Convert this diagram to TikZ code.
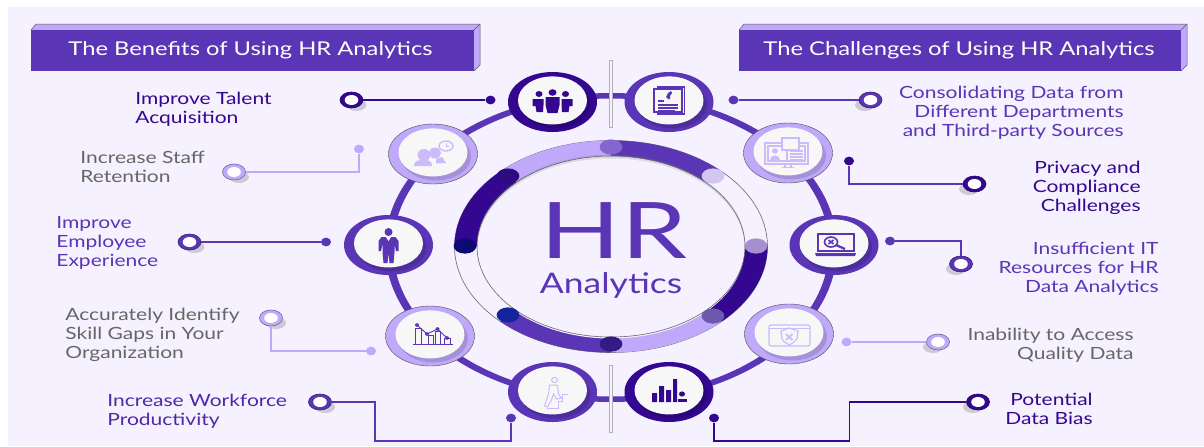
\documentclass[tikz,border=0pt]{standalone}
\usepackage{fontspec}
\setmainfont[FakeStretch=1.25]{Lato}
\usetikzlibrary{shapes.geometric}
\definecolor{bgp}{HTML}{F5F1FE}
\definecolor{darkp}{HTML}{33078F}
\definecolor{midp}{HTML}{5A35B5}
\definecolor{lightp}{HTML}{C0A9FB}
\definecolor{iconl}{HTML}{CBBBFA}
\definecolor{corec}{HTML}{F7F7F8}
\definecolor{grayt}{HTML}{666666}
\definecolor{da}{HTML}{8565CE}
\definecolor{db}{HTML}{D2C6F0}
\definecolor{dc}{HTML}{A78ED0}
\definecolor{dd}{HTML}{6C58AC}
\definecolor{de}{HTML}{341A85}
\definecolor{df}{HTML}{14249C}
\definecolor{dg}{HTML}{0E0A75}
\definecolor{dh}{HTML}{2E0A80}
\tikzset{
 x=0.5pt,y=-0.5pt,
 big/.style={ellipse,inner sep=0pt,minimum width=44.5pt,minimum height=30pt},
 core/.style={ellipse,inner sep=0pt,minimum width=34.5pt,minimum height=24pt,fill=corec},
 termo/.style={ellipse,inner sep=0pt,minimum width=11.5pt,minimum height=8pt,draw=#1!60!black,line width=.3pt,fill=#1},
 termi/.style={ellipse,inner sep=0pt,minimum width=6.8pt,minimum height=5pt,fill=white},
 dotn/.style={ellipse,inner sep=0pt,minimum width=5pt,minimum height=4.4pt,fill=#1},
 conn/.style={draw=#1,line width=.9pt},
 lbl/.style={inner sep=0pt,font=\fontsize{8.4}{9.5}\selectfont,text=#1},
 head/.style={inner sep=0pt,text=white,font=\fontsize{9.5}{11}\selectfont},
 ringdot/.style={ellipse,inner sep=0pt,minimum width=11.4pt,minimum height=7.6pt,fill=#1},
 icon/.style={draw=#1,fill=#1},
}
\newcommand\bignode[4]{% name, pos, colour, extra style
 \node[big,fill=#3,#4] (#1) at (#2) {};
 \fill[black,opacity=.14] ([shift={(1.5pt,-1.2pt)}]#1) ellipse[x radius=35,y radius=24];
 \node[core] (#1i) at ([yshift=.8pt]#1) {};
}
\newcommand\termnode[3]{%
 \node[termo=#3] (#1) at (#2) {};
 \node[termi] (#1i) at (#2) {};
}
\newcommand\termshadow[2]{\fill[black,opacity=.16] (#1) ++(#2,5) ellipse[x radius=10,y radius=6];}
\newcommand\ringseg[3]{\fill[#3] plot[domain=#1:#2,samples=30] ({611+156.5*cos(\x)},{246.5+106*sin(\x)}) -- plot[domain=#2:#1,samples=30] ({611+134*cos(\x)},{246.5+90.5*sin(\x)}) -- cycle;}
\begin{document}
\begin{tikzpicture}
\useasboundingbox (0,0) rectangle (1204,446);
\fill[white] (0,0) rectangle (1204,446);
\fill[bgp] (8,7) rectangle (1204,446);
% headers
\fill[lightp] (31,30) -- (36,24) -- (480,24) -- (480,65) -- (474,71) -- (474,30) -- cycle;
\draw[gray!70!black,line width=.25pt] (31,30) -- (36,24) -- (480,24) -- (480,65) -- (474,71);
\draw[gray!70!black,line width=.25pt] (474,30) -- (480,24);
\node[fill=midp,inner sep=0pt,minimum width=221.5pt,minimum height=20.5pt,head] (hl) at (252.5,50) {};
\node[head] (hlt) at (250.5,50.5) {The Benefits of Using HR Analytics};
\fill[lightp] (739,30) -- (744,24) -- (1187,24) -- (1187,65) -- (1181,71) -- (1181,30) -- cycle;
\draw[gray!70!black,line width=.25pt] (739,30) -- (744,24) -- (1187,24) -- (1187,65) -- (1181,71);
\draw[gray!70!black,line width=.25pt] (1181,30) -- (1187,24);
\node[fill=midp,inner sep=0pt,minimum width=221pt,minimum height=20.5pt,head] (hr) at (960,50) {};
\node[head] (hrt) at (959,50.5) {The Challenges of Using HR Analytics};
% connecting ring
\fill[midp,even odd rule] (611,247.5) ellipse[x radius=226,y radius=154.5] (611,247.5) ellipse[x radius=218,y radius=149];
% separators
\draw[draw=gray!60,line width=1.6pt] (611,60) -- (611,128);
\draw[draw=bgp,line width=.7pt] (611,61) -- (611,127);
\draw[draw=gray!60,line width=1.6pt] (611,365) -- (611,433);
\draw[draw=bgp,line width=.7pt] (611,366) -- (611,432);
% centre ring
\fill[bgp] (611,246.5) ellipse[x radius=156.5,y radius=106];
\draw[gray!80!black,line width=.3pt] (611,246.5) ellipse[x radius=156.5,y radius=106];
\ringseg{0}{45}{darkp}
\ringseg{45}{90}{lightp}
\ringseg{90}{135}{midp}
\ringseg{180}{225}{darkp}
\ringseg{225}{270}{lightp}
\ringseg{270}{315}{midp}
\fill[gray,opacity=.22] (611,245) ellipse[x radius=134,y radius=90.5];
\fill[bgp] (611,248.5) ellipse[x radius=133.5,y radius=90];
\draw[gray!80!black,line width=.3pt] (611,246.5) ellipse[x radius=134,y radius=90.5];
\node[ringdot=da] (d1) at (611,147) {};
\node[ringdot=db] (d2) at (713,176) {};
\node[ringdot=dc] (d3) at (756,246) {};
\node[ringdot=dd] (d4) at (713,316) {};
\node[ringdot=de] (d5) at (611,344) {};
\node[ringdot=df] (d6) at (508,315) {};
\node[ringdot=dg] (d7) at (465,246) {};
\node[ringdot=dh] (d8) at (508,176) {};
\node[inner sep=0pt,text=midp,font=\fontsize{39}{40}\selectfont] (hrtitle) at (614,231) {\scalebox{1.08}[1]{HR}};
\node[inner sep=0pt,text=midp,font=\fontsize{14.2}{15}\selectfont] (hrsub) at (611,285) {Analytics};
% big nodes
\bignode{n1}{552.5,102}{darkp}{}
\bignode{n2}{669,102}{midp}{}
\bignode{n3}{788,153}{lightp}{draw=black!70,line width=.2pt}
\bignode{n4}{433,154}{lightp}{draw=black!70,line width=.2pt}
\bignode{n5}{834,245}{midp}{}
\bignode{n6}{388.5,245}{midp}{}
\bignode{n7}{789,334}{lightp}{draw=black!70,line width=.2pt}
\bignode{n8}{430,336}{lightp}{draw=black!70,line width=.2pt}
\bignode{n9}{552.5,392}{midp}{}
\bignode{n10}{669,392}{darkp}{}
% terminal shadows
\termshadow{351.5,100}{5}\termshadow{234,172}{5}\termshadow{189.5,242}{5}\termshadow{271,318}{5}\termshadow{320,402}{5}
\termshadow{870,100}{-5}\termshadow{974,184}{-5}\termshadow{961,264}{-5}\termshadow{938,342}{-5}\termshadow{978,402}{-5}
% terminals and dots
\termnode{a1}{351.5,100}{darkp}\node[dotn=darkp] (b1) at (490.5,100) {};
\termnode{a2}{234,172}{lightp}\node[dotn=lightp] (b2) at (359,149) {};
\termnode{a3}{189.5,242}{midp}\node[dotn=midp] (b3) at (326,242) {};
\termnode{a4}{271,318}{lightp}\node[dotn=lightp] (b4) at (371,351) {};
\termnode{a5}{320,402}{midp}\node[dotn=midp] (b5) at (511,418) {};
\termnode{c1}{870.5,100}{midp}\node[dotn=midp] (e1) at (733.5,100) {};
\termnode{c2}{974.5,184}{darkp}\node[dotn=darkp] (e2) at (849,161) {};
\termnode{c3}{961,264}{midp}\node[dotn=midp] (e3) at (890,241) {};
\termnode{c4}{938,342}{lightp}\node[dotn=lightp] (e4) at (846.5,342) {};
\termnode{c5}{978,402}{darkp}\node[dotn=darkp] (e5) at (714,418) {};
\coordinate (w1) at (375,441);
\coordinate (w2) at (849.5,441);
\draw[conn=darkp] (a1) -- (b1);
\draw[conn=lightp] (a2) -| (b2);
\draw[conn=midp] (a3) -- (b3);
\draw[conn=lightp] (a4) |- (b4);
\draw[conn=midp] (a5) -| (w1) -| (b5);
\draw[conn=midp] (e1) -- (c1);
\draw[conn=midp] (e2) |- (c2);
\draw[conn=midp] (e3) -| (c3);
\draw[conn=lightp] (e4) -- (c4);
\draw[conn=darkp] (e5) |- (w2) |- (c5);
% labels
\node[lbl=darkp,anchor=west,align=left] (t1) at (135,109.5) {Improve Talent\\Acquisition};
\node[lbl=grayt,anchor=west,align=left] (t2) at (80,167) {Increase Staff\\Retention};
\node[lbl=midp,anchor=west,align=left] (t3) at (56,243) {Improve\\Employee\\Experience};
\node[lbl=grayt,anchor=west,align=left] (t4) at (65,334.5) {Accurately Identify\\Skill Gaps in Your\\Organization};
\node[lbl=midp!70!darkp,anchor=west,align=left] (t5) at (107,411.5) {Increase Workforce\\Productivity};
\node[lbl=midp,anchor=east,align=right] (t6) at (1124,113) {Consolidating Data from\\Different Departments\\and Third-party Sources};
\node[lbl=darkp,anchor=east,align=right] (t7) at (1141,188) {Privacy and\\Compliance\\Challenges};
\node[lbl=midp,anchor=east,align=right] (t8) at (1159,269) {Insufficient IT\\Resources for HR\\Data Analytics};
\node[lbl=grayt,anchor=east,align=right] (t9) at (1134,345.5) {Inability to Access\\Quality Data};
\node[lbl=darkp,anchor=east,align=right] (t10) at (1093,409) {Potential\\Data Bias};
% icons
% n1 people
\begin{scope}[shift={(552.5,102)},icon=darkp]
\fill (0,-9.5) ellipse[x radius=4,y radius=3.3] (-13.5,-8) ellipse[x radius=3.5,y radius=3] (13,-8) ellipse[x radius=3.5,y radius=3];
\fill (-7,-5) -- (7,-5) -- (7,3) -- (5,11) -- (-5,11) -- (-7,3) -- cycle;
\fill (-20,-3) -- (-9,-3) -- (-9,3) -- (-9.5,10) -- (-16,10) -- (-17,4) -- (-20,4) -- cycle;
\fill (20,-3) -- (9,-3) -- (9,3) -- (9.5,10) -- (16,10) -- (17,4) -- (20,4) -- cycle;
\end{scope}
% n2 document
\begin{scope}[shift={(669,102)},icon=midp,line width=.6pt]
\draw[fill=none] (-15,-13) rectangle (13,10);
\draw[fill=none] (15.5,-15) -- (-12,-15) (15.5,-15) -- (15.5,12) -- (-12,12);
\fill (-3,-5) -- (-1,-9) -- (2,-11) -- (3,-9) -- (1,-6) -- (1,-3) -- (-1,-3) -- cycle;
\draw (-11,-1) -- (-5,-1) (-11,3) -- (9,3) (-11,6) -- (9,6) (-11,8.5) -- (6,8.5);
\end{scope}
% n3 monitor
\begin{scope}[shift={(788,153)},icon=iconl,line width=.7pt]
\draw[fill=none] (-23,-10) rectangle (20,11);
\draw[fill=none] (-20,-7) rectangle (17,8);
\fill[corec] (-6,-15) rectangle (11,-3);
\draw[fill=none] (-6,-15) rectangle (11,-3);
\fill (-13,-2) ellipse[x radius=3,y radius=2.7];
\fill (-18,7) .. controls (-18,1) and (-8,1) .. (-8,7) -- cycle;
\draw (-3,11) -- (-3,14) (3,11) -- (3,14) (-6,14.5) -- (6,14.5);
\draw (-1,-2) -- (-1,8) (2,-2) -- (15,-2) (2,1) -- (15,1) (2,4) -- (15,4) (2,7) -- (15,7);
\end{scope}
% n4 people with clock
\begin{scope}[shift={(433,154)},icon=iconl]
\fill (2,-1) ellipse[x radius=6,y radius=5.5];
\fill (3,5) -- (9,3) -- (13,9) -- (3,9.5) -- cycle;
\fill (-9,1) ellipse[x radius=6.5,y radius=6];
\fill (-19,12) .. controls (-19,6) and (-14,6) .. (-9,6) .. controls (-4,6) and (-1,7) .. (-1,12) -- cycle;
\draw[fill=none,line width=.7pt] (13,-8) ellipse[x radius=7,y radius=5];
\draw[fill=none,line width=.4pt] (13,-11) -- (13,-8) -- (16,-8);
\end{scope}
% n5 laptop magnifier
\begin{scope}[shift={(834,245)},icon=midp,line width=.6pt]
\draw[fill=none] (-16,-11) rectangle (20,6);
\fill (-19,8) -- (22,8) -- (21,11) -- (-18,11) -- cycle;
\draw[fill=none,line width=.8pt] (-3,-3) ellipse[x radius=6.5,y radius=5];
\draw[line width=1.1pt] (2,0) -- (11,4);
\draw[line width=.8pt] (-5.5,-5) -- (-.5,-1) (-.5,-5) -- (-5.5,-1);
\end{scope}
% n6 person tie
\begin{scope}[shift={(388.5,245)},icon=midp]
\fill (0,-13) ellipse[x radius=4,y radius=4];
\fill (-7,-8) -- (7,-8) -- (10,-4) -- (10,6) -- (7.5,6) -- (6,-1) -- (6,7) -- (5,18) -- (1,18) -- (0,8) -- (-1,18) -- (-5,18) -- (-6,7) -- (-6,-1) -- (-7.5,6) -- (-10,6) -- (-10,-4) -- cycle;
\fill[white] (-2.5,-8) -- (2.5,-8) -- (0,-4) -- cycle;
\end{scope}
% n7 browser shield
\begin{scope}[shift={(789,334)},icon=iconl,line width=.6pt]
\draw[fill=none,rounded corners=1pt] (-20,-9) rectangle (21,12);
\draw (-20,-5.5) -- (21,-5.5);
\draw[fill=none] (-8,-3) -- (0,-6) -- (9,-3) -- (8,5) .. controls (6,8) and (3,9) .. (.5,11) .. controls (-2,9) and (-6,8) .. (-7,5) -- cycle;
\draw[line width=.9pt] (-3,0) -- (3.5,6) (3.5,0) -- (-3,6);
\end{scope}
% n8 chart
\begin{scope}[shift={(430,336)},icon=midp,line width=.45pt]
\draw (-17.5,8) -- (23,8);
\draw[fill=none] (-15,8) -- (-15,-8) -- (-9,-8) -- (-9,8);
\draw[fill=none] (-2,8) -- (-2,-1) -- (3,-1) -- (3,8);
\draw[fill=none] (5.5,8) -- (5.5,-5) -- (10,-5) -- (10,8);
\draw[fill=none] (14,8) -- (14,2) -- (20,2) -- (20,8);
\draw (-13,-11) -- (-3,-2) -- (7.5,-7) -- (17,2);
\fill (-13,-11) ellipse[x radius=2,y radius=1.8] (-3,-2) ellipse[x radius=2,y radius=1.8] (7.5,-7) ellipse[x radius=2,y radius=1.8] (17,2) ellipse[x radius=2,y radius=1.8];
\end{scope}
% n9 stairs figure
\begin{scope}[shift={(552.5,392)},icon=iconl,line width=.5pt]
\draw[fill=none] (2,-12) ellipse[x radius=3,y radius=2.6];
\draw[fill=none] (-3,-7) -- (5,-7) -- (6,2) -- (9,6) -- (4,7) -- (1,2) -- (-1,8) -- (-5,15) -- (-8,14) -- (-4,2) -- cycle;
\draw[fill=none] (-6,16) -- (6,16) -- (6,9) -- (10,9) -- (10,2) -- (15,2);
\end{scope}
% n10 bars person
\begin{scope}[shift={(669,392)},icon=darkp]
\fill (-17,1) rectangle (-12,10) (-10,-6) rectangle (-5,10) (-3,-2) rectangle (2,10) (4,-13) rectangle (8,10);
\fill (13,2) ellipse[x radius=3,y radius=2.6];
\fill (8.5,10) -- (8.5,7) -- (18,7) -- (18,10) -- cycle;
\end{scope}
\end{tikzpicture}
\end{document}
